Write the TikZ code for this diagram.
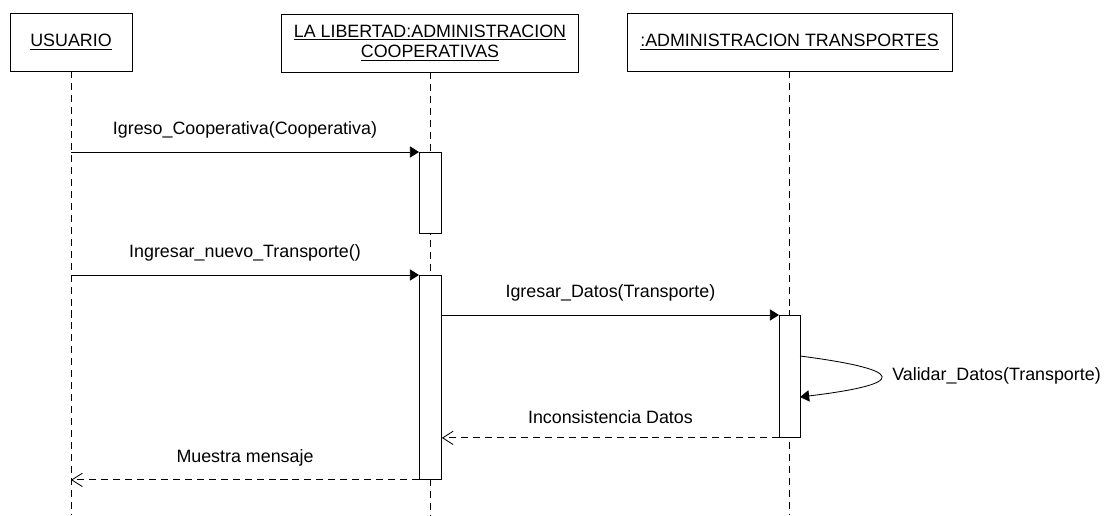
\documentclass[tikz,border=0pt]{standalone}
\usepackage{fontspec}
\setmainfont{Liberation Sans}
\usepackage{tikz}
\usetikzlibrary{positioning,arrows.meta}

\begin{document}
\begin{tikzpicture}[x=0.025cm,y=-0.025cm,font=\fontsize{12.7}{14.5}\selectfont]

			\tikzstyle{objbox}=[draw, line width=0.6pt, minimum height=1.45cm, align=center, inner sep=0pt]
			\tikzstyle{lifeline}=[line width=0.6pt, dash pattern=on 5pt off 3.5pt]
			\tikzstyle{actbox}=[draw, fill=white, line width=0.6pt, anchor=north west, inner sep=0pt]
			\tikzstyle{msg}=[line width=0.6pt, -{Triangle[length=6.5pt,width=8pt]}]
			\tikzstyle{reply}=[line width=0.6pt, dash pattern=on 5pt off 3.5pt, -{Straight Barb[length=7.5pt,width=9.5pt]}]
			\tikzstyle{msglabel}=[midway, above=9.5pt, inner sep=0pt]

		\useasboundingbox (0,0) rectangle (1112,515);
		\coordinate (bottom) at (0,515);

		%objects
		\node [objbox, minimum width=3.05cm] (usuario) at (71,42) {\underline{USUARIO}};
		\node [objbox, minimum width=7.425cm] (cooperativas) at (430,43) {\underline{LA LIBERTAD:ADMINISTRACION}\\\underline{COOPERATIVAS}};
		\node [objbox, minimum width=8.125cm] (transportes) at (789.5,42) {\underline{:ADMINISTRACION TRANSPORTES}};

		%lifelines
		\draw [lifeline] (usuario.south) -- (usuario.south |- bottom);
		\draw [lifeline] (cooperativas.south) -- (cooperativas.south |- bottom);
		\draw [lifeline] (transportes.south) -- (transportes.south |- bottom);

		%activations
		\node [actbox, minimum width=0.55cm, minimum height=2.025cm] (act1) at (419,152) {};
		\node [actbox, minimum width=0.55cm, minimum height=5.1cm] (act2) at (419,275) {};
		\node [actbox, minimum width=0.525cm, minimum height=3.05cm] (act3) at (779,315) {};

		%calls
		\draw [msg] (usuario.south |- act1.north west) -- node [msglabel] {Igreso\_Cooperativa(Cooperativa)} (act1.north west);
		\draw [msg] (usuario.south |- act2.north west) -- node [msglabel] {Ingresar\_nuevo\_Transporte()} (act2.north west);
		\draw [msg] (act2.east |- act3.north west) -- node [msglabel] {Igresar\_Datos(Transporte)} (act3.north west);

		%self call
		\coordinate (selfstart) at (800,356);
		\coordinate (selfend) at (800,397);
		\draw [msg] (selfstart) .. controls (908,370) and (908,384) .. (selfend);
		\node [anchor=west, inner sep=0pt] (validar) at (892,376) {Validar\_Datos(Transporte)};

		%replies
		\draw [reply] (act3.south west) -- node [msglabel] {Inconsistencia Datos} (act2.east |- act3.south west);
		\draw [reply] (act2.south west) -- node [msglabel] {Muestra mensaje} (usuario.south |- act2.south west);

		\end{tikzpicture}
\end{document}
